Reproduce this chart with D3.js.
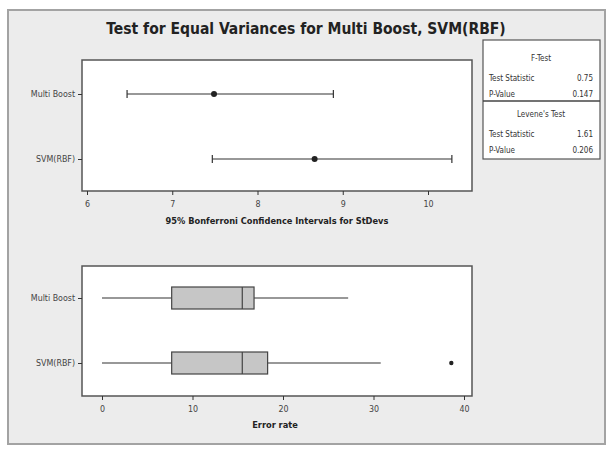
<!DOCTYPE html>
<head>
  <script src="https://d3js.org/d3.v7.min.js"></script>
  <style>
    body { margin: 0; background: #fff; }
    text { font-family: "DejaVu Sans Condensed", "DejaVu Sans", sans-serif; }
  </style>
</head>
<body>
  <svg width="611" height="463"></svg>
  <script>
    // values
    const groups = ['Multi Boost', 'SVM(RBF)'];
    const ciLower = [6.47, 7.47];
    const ciEstimate = [7.49, 8.67];
    const ciUpper = [8.89, 10.28];
    const ciTicks = [6, 7, 8, 9, 10];

    const whiskerLow = [0, 0];
    const q1 = [7.7, 7.7];
    const median = [15.5, 15.5];
    const q3 = [16.8, 18.3];
    const whiskerHigh = [27.2, 30.8];
    const outliers = [[], [38.6]];
    const errTicks = [0, 10, 20, 30, 40];

    const testNames = ['F-Test', "Levene's Test"];
    const testStats = ['0.75', '1.61'];
    const pValues = ['0.147', '0.206'];

    const svg = d3.select('svg');
    const ink = '#333';

    // outer frame
    svg.append('rect')
      .attr('x', 8).attr('y', 10).attr('width', 597).attr('height', 434)
      .attr('fill', '#ececec').attr('stroke', '#a3a3a3').attr('stroke-width', 2);

    svg.append('text')
      .attr('x', 306).attr('y', 34)
      .attr('text-anchor', 'middle')
      .attr('font-size', 15.5).attr('font-weight', 'bold').attr('fill', '#222')
      .text('Test for Equal Variances for Multi Boost, SVM(RBF)');

    const left = 82, right = 472;

    const styleAxis = g => {
      g.select('.domain').remove();
      g.selectAll('.tick line').attr('stroke', ink);
      g.selectAll('.tick text').attr('fill', '#444').attr('font-size', 8.8)
        .style('font-family', '"DejaVu Sans Condensed", sans-serif');
    };

    // ---- top panel: Bonferroni CIs ----
    const top1 = 60, bot1 = 191;
    const x1 = d3.scaleLinear().domain([6, 10]).range([87, 428]);
    const y1 = d3.scalePoint().domain(groups).range([94, 159]);

    svg.append('rect')
      .attr('x', left).attr('y', top1).attr('width', right - left).attr('height', bot1 - top1)
      .attr('fill', '#fff').attr('stroke', '#555').attr('stroke-width', 1.5);

    svg.append('g')
      .attr('transform', `translate(0,${bot1})`)
      .call(d3.axisBottom(x1).tickValues(ciTicks).tickFormat(d3.format('d')).tickSize(4).tickPadding(6))
      .call(styleAxis);

    svg.append('g')
      .attr('transform', `translate(${left},0)`)
      .call(d3.axisLeft(y1).tickSize(4).tickPadding(3))
      .call(styleAxis);

    svg.append('text')
      .attr('x', 277).attr('y', 224)
      .attr('text-anchor', 'middle').attr('font-size', 9.2).attr('font-weight', 'bold').attr('fill', '#222')
      .text('95% Bonferroni Confidence Intervals for StDevs');

    const ci = svg.append('g').selectAll('g').data(groups).join('g');
    ci.append('line')
      .attr('x1', (d, i) => x1(ciLower[i])).attr('x2', (d, i) => x1(ciUpper[i]))
      .attr('y1', d => y1(d)).attr('y2', d => y1(d))
      .attr('stroke', ink).attr('stroke-width', 1.2);
    ci.append('line')
      .attr('x1', (d, i) => x1(ciLower[i])).attr('x2', (d, i) => x1(ciLower[i]))
      .attr('y1', d => y1(d) - 4).attr('y2', d => y1(d) + 4)
      .attr('stroke', ink).attr('stroke-width', 1.2);
    ci.append('line')
      .attr('x1', (d, i) => x1(ciUpper[i])).attr('x2', (d, i) => x1(ciUpper[i]))
      .attr('y1', d => y1(d) - 4).attr('y2', d => y1(d) + 4)
      .attr('stroke', ink).attr('stroke-width', 1.2);
    ci.append('circle')
      .attr('cx', (d, i) => x1(ciEstimate[i])).attr('cy', d => y1(d))
      .attr('r', 3).attr('fill', '#222');

    // ---- legend table ----
    const lg = svg.append('g');
    lg.append('rect')
      .attr('x', 483).attr('y', 40).attr('width', 117).attr('height', 119)
      .attr('fill', '#fff').attr('stroke', '#555').attr('stroke-width', 1.2);
    lg.append('line')
      .attr('x1', 483).attr('x2', 600).attr('y1', 101).attr('y2', 101)
      .attr('stroke', '#444').attr('stroke-width', 1.5);
    testNames.forEach((name, i) => {
      const y0 = 40 + i * 56;
      lg.append('text').attr('x', 541).attr('y', y0 + 21)
        .attr('text-anchor', 'middle').attr('font-size', 8).attr('fill', '#333').text(name);
      lg.append('text').attr('x', 489).attr('y', y0 + 41)
        .attr('font-size', 8).attr('fill', '#333').text('Test Statistic');
      lg.append('text').attr('x', 593).attr('y', y0 + 41)
        .attr('text-anchor', 'end').attr('font-size', 8).attr('fill', '#333').text(testStats[i]);
      lg.append('text').attr('x', 489).attr('y', y0 + 57)
        .attr('font-size', 8).attr('fill', '#333').text('P-Value');
      lg.append('text').attr('x', 593).attr('y', y0 + 57)
        .attr('text-anchor', 'end').attr('font-size', 8).attr('fill', '#333').text(pValues[i]);
    });

    // ---- bottom panel: boxplots ----
    const top2 = 266, bot2 = 396;
    const x2 = d3.scaleLinear().domain([0, 40]).range([102, 464]);
    const y2 = d3.scalePoint().domain(groups).range([298, 363]);
    const boxH = 22;

    svg.append('rect')
      .attr('x', left).attr('y', top2).attr('width', right - left).attr('height', bot2 - top2)
      .attr('fill', '#fff').attr('stroke', '#555').attr('stroke-width', 1.5);

    svg.append('g')
      .attr('transform', `translate(0,${bot2})`)
      .call(d3.axisBottom(x2).tickValues(errTicks).tickFormat(d3.format('d')).tickSize(4).tickPadding(6))
      .call(styleAxis);

    svg.append('g')
      .attr('transform', `translate(${left},0)`)
      .call(d3.axisLeft(y2).tickSize(4).tickPadding(3))
      .call(styleAxis);

    svg.append('text')
      .attr('x', 275).attr('y', 428)
      .attr('text-anchor', 'middle').attr('font-size', 9.2).attr('font-weight', 'bold').attr('fill', '#222')
      .text('Error rate');

    const bx = svg.append('g').selectAll('g').data(groups).join('g');
    bx.append('line')
      .attr('x1', (d, i) => x2(whiskerLow[i])).attr('x2', (d, i) => x2(q1[i]))
      .attr('y1', d => y2(d)).attr('y2', d => y2(d))
      .attr('stroke', ink).attr('stroke-width', 1.2);
    bx.append('line')
      .attr('x1', (d, i) => x2(q3[i])).attr('x2', (d, i) => x2(whiskerHigh[i]))
      .attr('y1', d => y2(d)).attr('y2', d => y2(d))
      .attr('stroke', ink).attr('stroke-width', 1.2);
    bx.append('rect')
      .attr('x', (d, i) => x2(q1[i])).attr('width', (d, i) => x2(q3[i]) - x2(q1[i]))
      .attr('y', d => y2(d) - boxH / 2).attr('height', boxH)
      .attr('fill', '#c6c6c6').attr('stroke', '#444').attr('stroke-width', 1.2);
    bx.append('line')
      .attr('x1', (d, i) => x2(median[i])).attr('x2', (d, i) => x2(median[i]))
      .attr('y1', d => y2(d) - boxH / 2).attr('y2', d => y2(d) + boxH / 2)
      .attr('stroke', '#444').attr('stroke-width', 1.2);
    bx.selectAll('circle')
      .data((d, i) => outliers[i].map(v => ({ v, g: d })))
      .join('circle')
      .attr('cx', o => x2(o.v)).attr('cy', o => y2(o.g))
      .attr('r', 2.2).attr('fill', '#222');
  </script>
</body>
